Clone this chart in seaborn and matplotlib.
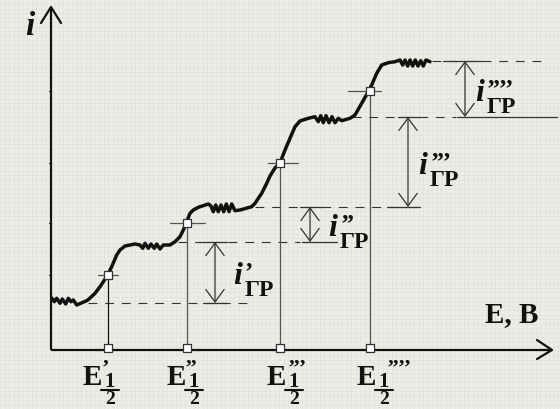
import matplotlib
matplotlib.use("Agg")
import matplotlib.pyplot as plt
import seaborn as sns
import pandas as pd
import numpy as np

# ---- data -------------------------------------------------------------
# polarographic curve: potential E and current i (plot units)
curve_E = [0.7, 3.3, 5.7, 9, 11.3, 14.7, 17.3, 20, 22.3, 25.7, 35.7, 38, 44, 49,
           55.7, 60.7, 65.7, 69, 74, 84, 89, 91.7, 94, 97.3, 100, 103.3, 105.7,
           109, 112.3, 119, 124, 129, 132.3, 135.7, 139, 142.3, 147.3, 157.3, 160,
           162.3, 164.7, 167.3, 170, 172.7, 175.3, 178, 180.7, 184, 189, 200.7,
           204, 210.7, 215.7, 219, 224, 229, 234, 239, 244, 249, 257.3, 264, 267.3,
           269.7, 272.3, 275, 278, 281, 284, 287.3, 290.7, 299, 304, 310.7, 317.3,
           320.7, 325.7, 330.7, 337.3, 344, 349, 351.7, 354, 356.7, 359, 361.7,
           364.3, 367, 369.7, 372.3, 375, 379]
curve_i = [52, 48.3, 51.7, 46.7, 51, 46, 51.7, 48.3, 50, 45, 49.3, 51, 56.7, 63.3,
           73.3, 83.3, 95, 100, 104, 106, 105, 101.7, 106.7, 101.7, 106, 101.7, 106,
           101, 105, 105, 108.3, 113.3, 120, 128.3, 136.7, 140, 142.7, 146, 144,
           138.3, 145, 138.3, 145, 138.3, 146, 138.3, 146, 139.3, 140, 143.3,
           146.7, 156.7, 166.7, 174, 182, 187, 200, 211.7, 223.3, 229, 231.7, 233.3,
           228.3, 234.3, 227.3, 234.3, 227.3, 233.3, 227.3, 231.7, 229.3, 231.7,
           235, 246.7, 258.3, 265, 276.7, 285, 287.3, 288.3, 290, 285, 290, 284,
           290, 284, 290, 284, 289.3, 284, 290, 288.3]

# half-wave potentials and the current at each of them
half_wave_E = [57, 136, 229, 319]
half_wave_i = [75, 127, 187, 259]
half_wave_labels = ["’", "’’", "’’’", "’’’’"]

# residual current and the four limiting-current levels
levels = [47, 108, 143, 233, 289]
limit_labels = ["’", "’’", "’’’", "’’’’"]

# ---- style ------------------------------------------------------------
BG = "#edece6"
INK = "#111111"
GREY = "#555555"
sns.set_theme(style="white", rc={"axes.facecolor": BG, "figure.facecolor": BG})
plt.rcParams["font.family"] = ["Liberation Serif", "DejaVu Serif"]

fig = plt.figure(figsize=(5.6, 4.09), dpi=100)
ax = fig.add_axes([0, 0, 1, 1])
ax.set_xlim(-51, 509)
ax.set_ylim(-59, 350)
ax.axis("off")

# faint paper texture behind the drawing
for gx in np.arange(-51, 509, 4.5):
    ax.axvline(gx, color="#e2e1d9", lw=0.45, zorder=0)
for gy in np.arange(-59, 350, 4.5):
    ax.axhline(gy, color="#e2e1d9", lw=0.45, zorder=0)

# ---- coordinate axes with open arrowheads ----------------------------
axis_kw = dict(color=INK, lw=1.6, solid_capstyle="butt")
ax.plot([0, 0], [0, 343], **axis_kw)
ax.plot([-10, 0, 10], [327, 343, 327], color=INK, lw=1.6)
ax.plot([0, 501], [0, 0], **axis_kw)
ax.plot([486, 501, 486], [10, 0, -9], color=INK, lw=1.6)
for yi in half_wave_i:
    ax.plot([-2, 0], [yi, yi], color=INK, lw=0.8)

# ---- construction lines ----------------------------------------------
dash_kw = dict(color="#333333", lw=0.8, linestyle=(0, (8, 7)))
dash_spans = [(37, 201), (127, 249), (204, 369), (301, 405), (381, 496)]
for lev, (x0, x1) in zip(levels, dash_spans):
    ax.plot([x0, x1], [lev, lev], **dash_kw)

# short horizontal ticks across each half-wave point
tick_spans = [(-10, 10), (-17, 18), (-12, 18), (-22, 11)]
for e, cur, (a, b) in zip(half_wave_E, half_wave_i, tick_spans):
    ax.plot([e + a, e + b], [cur, cur], color=GREY, lw=0.9)

# drop lines from half-wave points to the potential axis
for k, (e, cur) in enumerate(zip(half_wave_E, half_wave_i)):
    ax.plot([e, e], [0, cur], color=INK if k == 0 else GREY, lw=0.9)

# ---- the curve --------------------------------------------------------
df = pd.DataFrame({"E": curve_E, "i": curve_i})
sns.lineplot(data=df, x="E", y="i", sort=False, estimator=None, color=INK,
             lw=2.5, ax=ax, legend=False)

# half-wave markers on the curve and on the axis
pts = pd.DataFrame({"E": half_wave_E * 2, "i": half_wave_i + [2] * 4})
sns.scatterplot(data=pts, x="E", y="i", marker="s", s=36, color="white",
                edgecolor="#333333", linewidth=0.9, ax=ax, zorder=5, legend=False)

# ---- limiting-current arrows -----------------------------------------
arrow_E = [164, 259, 357, 414]
bar_spans = [((-12, 12), (-12, 12)), ((-10, 13), (-8, 27)),
             ((-10, 12), (-21, 12)), ((-22, 17), (-8, 92))]
arrow_style = "<->,head_length=0.75,head_width=0.55"
for k, xe in enumerate(arrow_E):
    lo, hi = levels[k], levels[k + 1]
    (ta, tb), (ba, bb) = bar_spans[k]
    ax.plot([xe + ta, xe + tb], [hi, hi], color="#333333", lw=0.9)
    ax.plot([xe + ba, xe + bb], [lo, lo], color="#333333", lw=0.9)
    ax.annotate("", xy=(xe, hi), xytext=(xe, lo),
                arrowprops=dict(arrowstyle=arrow_style, color="#333333", lw=0.9,
                                shrinkA=0, shrinkB=0))

# i_ГР labels: italic i, primes, subscript ГР
label_dx = [18, 18, 10, 10]
for k, xe in enumerate(arrow_E):
    mid = (levels[k] + levels[k + 1]) / 2
    x0, y0 = xe + label_dx[k], mid - 12
    ax.text(x0, y0, "i", fontsize=23, fontweight="bold", fontstyle="italic",
            color=INK, ha="left", va="baseline")
    ax.text(x0 + 12, y0 + 23, limit_labels[k], fontsize=18, fontweight="bold",
            color=INK, ha="left", va="top")
    ax.text(x0 + 12, y0 - 12, "ГР", fontsize=17, fontweight="bold",
            color=INK, ha="left", va="baseline")

# E_1/2 labels under the potential axis
e_dx = [-25, -20, -13, -13]
prime_dx = [19, 18, 21, 30]
for k, e in enumerate(half_wave_E):
    xl = e + e_dx[k]
    ax.text(xl, -35, "E", fontsize=21, fontweight="bold", color=INK,
            ha="left", va="baseline")
    ax.text(xl + prime_dx[k], -9, half_wave_labels[k], fontsize=16,
            fontweight="bold", color=INK, ha="left", va="top")
    xc = xl + 27
    ax.text(xc, -37, "1", fontsize=15, fontweight="bold", color=INK,
            ha="center", va="baseline")
    ax.plot([xc - 9, xc + 9], [-39.5, -39.5], color=INK, lw=1.5)
    ax.text(xc, -54, "2", fontsize=14, fontweight="bold", color=INK,
            ha="center", va="baseline")

# axis titles
ax.text(-26, 315, "i", fontsize=24, fontweight="bold", fontstyle="italic",
        color=INK, ha="left", va="baseline")
ax.text(434, 28, "E, B", fontsize=21, fontweight="bold", color=INK,
        ha="left", va="baseline")

fig.savefig("out.png", dpi=100, facecolor=fig.get_facecolor())
